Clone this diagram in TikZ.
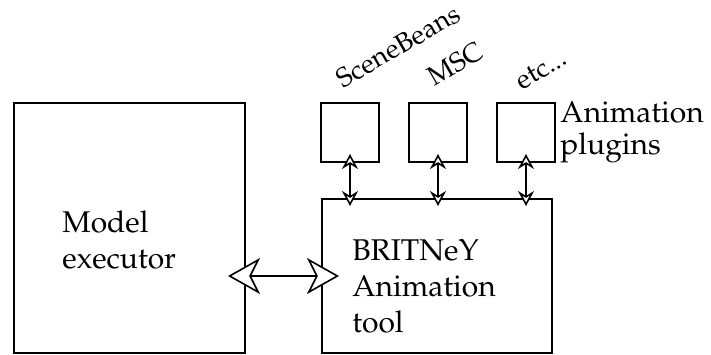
\documentclass[tikz,border=0pt]{standalone}
\usepackage[T1]{fontenc}
\usepackage{mathpazo}
\usetikzlibrary{arrows.meta, positioning}

\begin{document}
\begin{tikzpicture}[
			x=0.5pt, y=-0.5pt,
			box/.style={draw, line width=1pt, inner sep=0pt},
			plugin/.style={box, minimum width=29pt, minimum height=29.5pt},
			txt/.style={align=left, anchor=west, inner sep=0pt, font=\fontsize{15}{18}\selectfont},
			tag/.style={rotate=30, inner sep=0pt, font=\fontsize{13.5}{15}\selectfont},
			link/.style={{Stealth[fill=white, length=7.5pt, width=8pt, inset=2.5pt]}-{Stealth[fill=white, length=7.5pt, width=8pt, inset=2.5pt]}, line width=0.8pt, shorten <=-4.5pt, shorten >=-4pt},
			biglink/.style={{Stealth[fill=white, length=16pt, width=18pt, inset=4.5pt]}-{Stealth[fill=white, length=16pt, width=18pt, inset=4.5pt]}, line width=0.8pt, shorten <=-9pt, shorten >=-9pt}
			]
			\useasboundingbox (0,0) rectangle (711,354);
			
			% Executor
			\node[box, minimum width=115.5pt, minimum height=125pt] (model) at (129.5,228) {};
			\node[txt] (modeltxt) at (62,240) {Model\\executor};
			
			% Animation tool
			\node[box, minimum width=115pt, minimum height=77pt] (britney) at (437,276) {};
			\node[txt] (britneytxt) at (352,286) {BRITNeY\\Animation\\tool};
			
			% Plugins
			\node[plugin] (scene) at (350,132.5) {};
			\node[plugin, right=14pt of scene] (msc) {};
			\node[plugin, right=14pt of msc] (etc) {};
			\node[txt, font=\fontsize{15}{16}\selectfont] (plugtxt) at (560,132) {Animation\\plugins};
			
			% Plugin names
			\node[tag] (scenetag) at (398,46) {SceneBeans};
			\node[tag] (msctag) at (455,64) {MSC};
			\node[tag] (etctag) at (541,70) {etc...};
			
			% Arrows
			\draw[link] (scene) -- (scene |- britney.north);
			\draw[link] (msc) -- (msc |- britney.north);
			\draw[link] (etc) -- (etc |- britney.north);
			\draw[biglink] (britney.west -| model.east) -- (britney.west);
			
		\end{tikzpicture}
\end{document}
